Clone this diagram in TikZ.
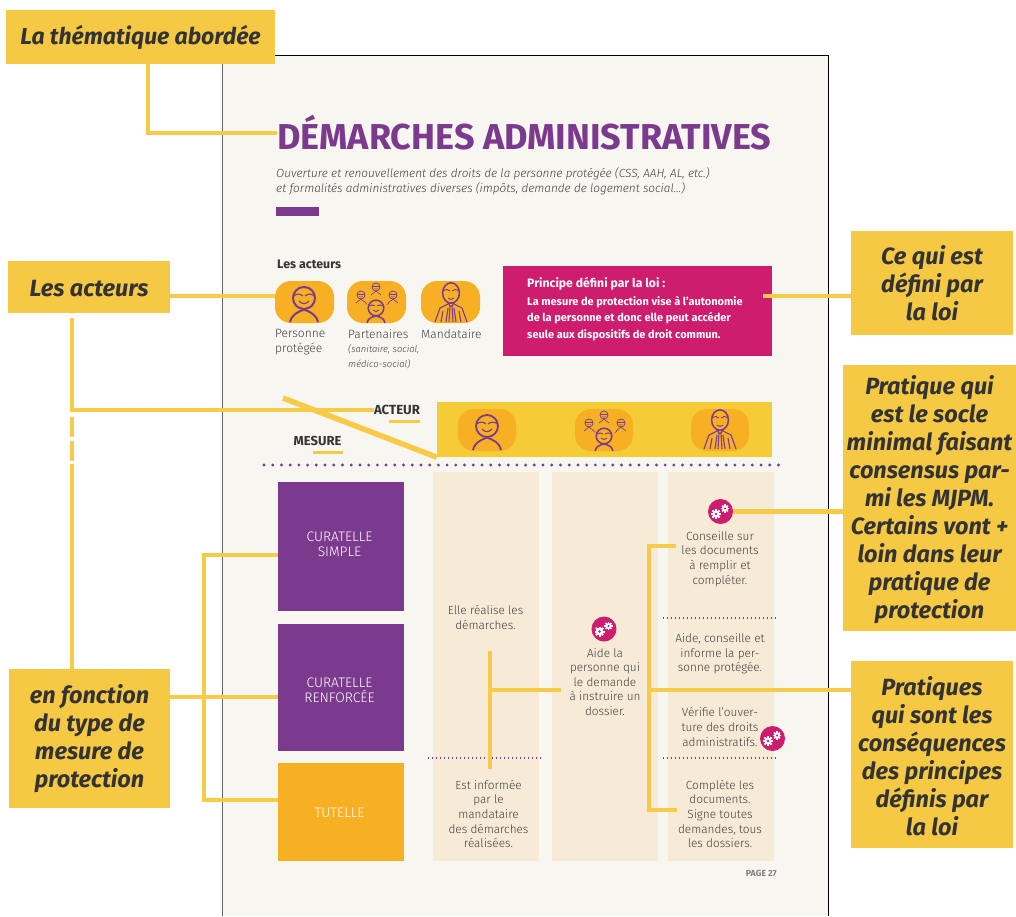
\documentclass[tikz,border=0pt]{standalone}
\usepackage{fontspec}
\setmainfont{Fira Sans}
\newfontfamily\lightf{Fira Sans Light}
\definecolor{ybox}{HTML}{F6C945}
\definecolor{yband}{HTML}{F6CB38}
\definecolor{yline}{HTML}{F7CB47}
\definecolor{ink}{HTML}{333333}
\definecolor{pagebg}{HTML}{F8F6F1}
\definecolor{purp}{HTML}{7C3A8E}
\definecolor{mag}{HTML}{CE1C6E}
\definecolor{orng}{HTML}{F7B024}
\definecolor{beige}{HTML}{F7EAD6}
\definecolor{bodyt}{HTML}{3F3F3F}
\tikzset{
  x=1pt,y=-1pt,
  callout/.style={fill=ybox,inner sep=0pt,align=center,text=ink,font=\fontsize{23.5}{28}\selectfont\bfseries\itshape},
  conn/.style={draw=yline,line width=4.8pt},
  column/.style={fill=beige,minimum width=106pt,minimum height=389pt,inner sep=0pt},
  mesure/.style={minimum width=126pt,inner sep=0pt,text=white,align=center,font=\lightf\fontsize{13.8}{15}\selectfont},
  coltext/.style={align=center,text=bodyt,inner sep=0pt,font=\lightf\fontsize{11.8}{14.6}\selectfont},
  iconbg/.style={fill=orng,rounded corners=16pt,minimum width=59pt,minimum height=42pt,inner sep=0pt},
  iconline/.style={draw=purp,line width=1.6pt},
  purpdots/.style={draw=purp,line width=1.4pt,dash pattern=on 1.4pt off 2.6pt},
  bigdots/.style={draw=purp,line width=3.2pt,line cap=round,dash pattern=on 0pt off 8.72pt},
  gearbadge/.style={fill=mag,circle,minimum size=25pt,inner sep=0pt},
  pics/gearcog/.style={code={
    \fill[white] (0,0) circle (3.6);
    \foreach \a in {0,45,...,315}{\fill[white,rotate=\a] (-1,-5) rectangle (1,0);}
    \fill[mag] (0,0) circle (1.4);
  }},
  pics/facefront/.style={code={
    \draw[iconline,line width=#1] (0,0) circle (11);
    \draw[iconline,line width=1.1pt] (-10.6,-2) .. controls (-7,-4.5) and (-4,-4.5) .. (-1,-2);
    \draw[iconline,line width=1.1pt] (10.6,-2) .. controls (7,-4.5) and (4,-4.5) .. (1,-2);
    \draw[iconline,line width=1.1pt] (-5,3) .. controls (-2,6.5) and (2,6.5) .. (5,3);
    \draw[iconline,line width=#1] (-14,24) .. controls (-12,16) and (-6,14) .. (0,11.5) .. controls (6,14) and (12,16) .. (14,24);
  }},
  pics/facesmall/.style={code={
    \draw[iconline,line width=#1] (0,0) circle (4);
    \draw[iconline,line width=0.5pt] (-3.6,-0.6) -- (3.6,-0.6);
    \draw[iconline,line width=0.5pt] (-1.6,1.4) .. controls (-0.5,2.4) and (0.5,2.4) .. (1.6,1.4);
    \draw[iconline,line width=0.6pt] (-5,8) -- (0,4) -- (5,8);
  }},
  pics/facegroup/.style={code={
    \pic at (-15,-7) {facesmall=0.8pt};
    \pic at (0,-15) {facesmall=0.8pt};
    \pic at (17,-7) {facesmall=0.8pt};
    \draw[iconline,line width=0.5pt,dashed] (-11,0) -- (-7,5);
    \draw[iconline,line width=0.5pt,dashed] (13,1) -- (8,5);
    \draw[iconline,line width=1.5pt] (0,6) circle (7.8);
    \draw[iconline,line width=0.9pt] (-7,4) .. controls (-5,2.6) and (-3,2.6) .. (-1,4);
    \draw[iconline,line width=0.9pt] (7,4) .. controls (5,2.6) and (3,2.6) .. (1,4);
    \draw[iconline,line width=0.9pt] (-3,8) .. controls (-1,10) and (1,10) .. (3,8);
    \draw[iconline,line width=1.5pt] (-9,21) .. controls (-8,16) and (-4,15) .. (0,14) .. controls (4,15) and (8,16) .. (9,21);
  }},
  pics/facesuit/.style={code={
    \draw[iconline,line width=1.5pt] (0,-9) ellipse (8.4 and 10.2);
    \draw[iconline,line width=0.9pt] (-8,-11) .. controls (-5,-13) and (-3,-13) .. (-1,-11);
    \draw[iconline,line width=0.9pt] (8,-11) .. controls (5,-13) and (3,-13) .. (1,-11);
    \draw[iconline,line width=0.9pt] (-3,-4) .. controls (-1,-2) and (1,-2) .. (3,-4);
    \draw[iconline,line width=1.1pt] (-16,20) -- (-11,6) -- (-3,2) (16,20) -- (11,6) -- (3,2);
    \draw[iconline,line width=1.1pt] (-3,1) -- (3,1) -- (1,4) -- (-1,4) -- cycle;
    \draw[iconline,line width=1.1pt] (-1,4) -- (-2,20) (1,4) -- (2,20);
    \draw[iconline,line width=1.1pt] (-8,9) -- (-10,20) (8,9) -- (10,20) (-3,6) -- (-5,20) (3,6) -- (5,20);
  }},
}
\begin{document}
\begin{tikzpicture}
\useasboundingbox (0,0) rectangle (1016,916);
\fill[white] (0,0) rectangle (1016,916);
% page
\node[fill=pagebg,minimum width=605pt,minimum height=860pt,inner sep=0pt] (page) at (525.5,486) {};
\draw[gray!80!black,line width=1.2pt] (page.north west) -- (page.south west);
\draw[black,line width=1pt] (page.north west) -- (page.north east) -- (page.south east);
% header
\node[anchor=west,inner sep=0pt,text=purp,font=\fontsize{36}{38}\selectfont\bfseries] (title) at (277,133) {DÉMARCHES ADMINISTRATIVES};
\node[anchor=north west,inner sep=0pt,align=left,text=bodyt,font=\lightf\fontsize{11.8}{15}\selectfont\itshape] (subt) at (276,167) {Ouverture et renouvellement des droits de la personne protégée (CSS, AAH, AL, etc.)\\et formalités administratives diverses (impôts, demande de logement social…)};
\node[fill=purp,minimum width=43pt,minimum height=9pt,inner sep=0pt] (bar) at (297.5,211.5) {};
% actors row
\node[anchor=west,inner sep=0pt,text=ink,font=\fontsize{12.4}{14}\selectfont\bfseries] (lesact) at (277,264) {Les acteurs};
\node[iconbg] (ic1) at (304.5,302) {};
\node[iconbg] (ic2) at (376.5,302) {};
\node[iconbg] (ic3) at (450.5,302) {};
\pic at (304,298) {facefront=2pt};
\pic at (376,302) {facegroup};
\pic at (451,302) {facesuit};
\node[anchor=north west,inner sep=0pt,align=left,text=bodyt,font=\lightf\fontsize{12}{15}\selectfont] (l1) at (275,329) {Personne\\protégée};
\node[anchor=north west,inner sep=0pt,text=bodyt,font=\lightf\fontsize{12}{15}\selectfont] (l2) at (348,329) {Partenaires};
\node[anchor=north west,inner sep=0pt,align=left,text=bodyt,font=\lightf\fontsize{9.5}{15}\selectfont\itshape] (l2b) at (348,344) {(sanitaire, social,\\médico-social)};
\node[anchor=north west,inner sep=0pt,text=bodyt,font=\lightf\fontsize{12}{15}\selectfont] (l3) at (421,329) {Mandataire};
% principle
\node[fill=mag,minimum width=269pt,minimum height=90pt,inner sep=0pt] (princ) at (637.5,311) {};
\node[anchor=north west,inner sep=0pt,text=white,align=left,font=\fontsize{11}{16.4}\selectfont\bfseries] (princt) at (527,296) {La mesure de protection vise à l’autonomie\\de la personne et donc elle peut accéder\\seule aux dispositifs de droit commun.};
\node[anchor=west,inner sep=0pt,text=white,font=\fontsize{12.2}{14}\selectfont\bfseries] (princh) at (527,284) {Principe défini par la loi :};
% table heads
\node[fill=yband,minimum width=335pt,minimum height=55pt,inner sep=0pt] (band) at (604.5,429.5) {};
\node[iconbg,minimum width=58pt] (b1) at (487,430) {};
\node[iconbg,minimum width=58pt] (b2) at (604,430) {};
\node[iconbg,minimum width=58pt] (b3) at (720,430) {};
\pic at (487,426) {facefront=1.8pt};
\pic at (604,430) {facegroup};
\pic at (720,429) {facesuit};
\node[inner sep=0pt,text=ink,font=\fontsize{13.2}{14}\selectfont\bfseries] (act) at (397,410) {ACTEUR};
\node[inner sep=0pt,text=ink,font=\fontsize{13}{14}\selectfont\bfseries] (mes) at (317.5,441) {MESURE};
\coordinate (dotsA) at (264,465);
\coordinate (dotsB) at (780,465);
\draw[bigdots] (dotsA) -- (dotsB);
% measure boxes
\node[mesure,fill=purp,minimum height=129pt] (cs) at (341,546.5) {};
\node[mesure,inner sep=0pt,text=white] (cst) at (339.5,544) {CURATELLE\\SIMPLE};
\node[mesure,fill=purp,minimum height=127pt] (cr) at (341,687.5) {};
\node[mesure] (crt) at (339.5,690) {CURATELLE\\RENFORCÉE};
\node[mesure,fill=orng,minimum height=98pt] (tu) at (341,812) {};
\node[mesure] (tut) at (339.5,813) {TUTELLE};
% columns
\node[column] (c1) at (486,666.5) {};
\node[column] (c2) at (605,666.5) {};
\node[column] (c3) at (720.5,666.5) {};
\coordinate (d1a) at (428,758); \coordinate (d1b) at (543,758);
\coordinate (d2a) at (663,618); \coordinate (d2b) at (776,618);
\coordinate (d3a) at (663,758); \coordinate (d3b) at (776,758);
\draw[purpdots] (d1a) -- (d1b);
\draw[purpdots] (d2a) -- (d2b);
\draw[purpdots] (d3a) -- (d3b);
\node[coltext] (t1) at (485.5,617.5) {Elle réalise les\\démarches.};
\node[coltext] (t2) at (488.5,814) {Est informée\\par le\\mandataire\\des démarches\\réalisées.};
\node[coltext] (t3) at (605,682) {Aide la\\personne qui\\le demande\\à instruire un\\dossier.};
\node[coltext] (t4) at (720,559) {Conseille sur\\les documents\\à remplir et\\compléter.};
\node[coltext] (t5) at (720,654) {Aide, conseille et\\informe la per-\\sonne protégée.};
\node[coltext] (t6) at (720,727) {Vérifie l’ouver-\\ture des droits\\administratifs.};
\node[coltext] (t7) at (720,814) {Complète les\\documents.\\Signe toutes\\demandes, tous\\les dossiers.};
\node[anchor=east,inner sep=0pt,text=gray,font=\fontsize{8.8}{10}\selectfont\bfseries] (pg) at (777,873) {PAGE 27};
% gear badges
\node[gearbadge] (g1) at (604,629) {};
\node[gearbadge] (g2) at (720.5,511.5) {};
\node[gearbadge] (g3) at (772.5,738.5) {};
\foreach \n in {g1,g2,g3}{
  \pic[scale=1] at ([xshift=-4.5pt,yshift=-2.5pt]\n.center) {gearcog};
  \pic[scale=0.82] at ([xshift=4.5pt,yshift=3pt]\n.center) {gearcog};
}
% callouts
\node[callout,minimum width=269pt,minimum height=54pt,font=\fontsize{23}{28}\selectfont\bfseries\itshape] (k1) at (140.5,37) {La thématique abordée};
\node[callout,minimum width=162pt,minimum height=52pt] (k2) at (89,287) {\rule{0pt}{19pt}Les acteurs};
\node[callout,minimum width=162pt,minimum height=104pt] (k3) at (932,283) {\rule{0pt}{19pt}Ce qui est\\défini par\\la loi};
\node[callout,minimum width=173pt,minimum height=266pt] (k4) at (929.5,498) {\rule{0pt}{22pt}Pratique qui\\est le socle\\minimal faisant\\consensus par-\\mi les MJPM.\\Certains vont +\\loin dans leur\\pratique de\\protection};
\node[callout,minimum width=162pt,minimum height=187pt] (k5) at (932,754.5) {\rule{0pt}{22pt}Pratiques\\qui sont les\\conséquences\\des principes\\définis par\\la loi};
\node[callout,minimum width=161pt,minimum height=139pt] (k6) at (89.5,738.5) {en fonction\\du type de\\mesure de\\protection};
% connectors
\draw[conn] ([xshift=7.5pt]k1.south) |- (title.west);
\draw[conn] (k2.east |- 0,296) coordinate (k2p) -- (ic1.west |- k2p);
\draw[conn] (k3.west |- 0,296) coordinate (k3p) -- (763,296) coordinate (princp);
\draw[conn] (k4.west |- g2.east) -- (g2.east);
\draw[conn] (k5.west |- 0,690) coordinate (k5p) -- (649,690) coordinate (bj);
\coordinate (rt) at (676,546); \coordinate (rb) at (677,810);
\draw[conn] (rt) -| (bj) |- (rb);
\coordinate (cj) at (490,690); \coordinate (ct) at (490,651); \coordinate (cb) at (490,769); \coordinate (ce) at (561,690);
\draw[conn] (ct) -- (cb);
\draw[conn] (cj) -- (ce);
\coordinate (v0) at (72,318);
\draw[conn] (v0) |- (act.west);
\coordinate (v1) at (72,416.5); \coordinate (v2) at (72,437);
\coordinate (v3) at (72,440.5); \coordinate (v4) at (72,461);
\coordinate (v5) at (72,463.5);
\draw[conn] (v1) -- (v2);
\draw[conn] (v3) -- (v4);
\draw[conn] (v5) -- (k6.north -| v5);
\coordinate (dg) at (283,398);
\draw[conn,line width=5.5pt] (dg) -- (band.south west);
\coordinate (au1) at (389,421); \coordinate (au2) at (420,421);
\coordinate (mu1) at (313,452); \coordinate (mu2) at (342.5,452);
\draw[conn,line width=3pt] (au1) -- (au2);
\draw[conn,line width=3pt] (mu1) -- (mu2);
\draw[conn] (k6.east |- 0,697) coordinate (k6p) -- (cr.west |- k6p);
\coordinate (br) at (204,697);
\draw[conn] (cs.west |- 0,555) -| (br);
\draw[conn] (br) |- (tu.west |- 0,800);
\end{tikzpicture}
\end{document}
